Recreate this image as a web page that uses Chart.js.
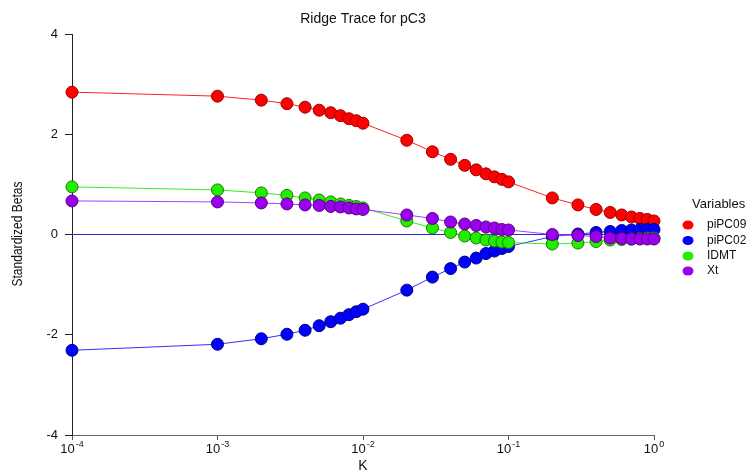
<!DOCTYPE html>
<html>
<head>
<meta charset="utf-8">
<script src="https://cdn.jsdelivr.net/npm/chart.js@4.4.1/dist/chart.umd.min.js"></script>
<style>
  html, body { margin: 0; padding: 0; background: #fff; }
  #wrap { width: 750px; height: 474px; position: relative; }
</style>
</head>
<body>
<div id="wrap"><canvas id="ridgeChart"></canvas></div>
<script>
// valores de K (escala log)
const kValues = [0.0001,
  0.001, 0.002, 0.003, 0.004, 0.005, 0.006, 0.007, 0.008, 0.009,
  0.01, 0.02, 0.03, 0.04, 0.05, 0.06, 0.07, 0.08, 0.09,
  0.1, 0.2, 0.3, 0.4, 0.5, 0.6, 0.7, 0.8, 0.9,
  1.0];

const piPC09 = [2.84, 2.76, 2.68, 2.61, 2.54, 2.48, 2.43, 2.37, 2.31, 2.27,
  2.22, 1.88, 1.65, 1.50, 1.38, 1.29, 1.21, 1.15, 1.10,
  1.05, 0.73, 0.59, 0.50, 0.44, 0.39, 0.35, 0.32, 0.30, 0.27];
const piPC02 = [-2.31, -2.19, -2.08, -1.99, -1.91, -1.82, -1.74, -1.67, -1.60, -1.54,
  -1.49, -1.11, -0.85, -0.68, -0.55, -0.47, -0.38, -0.33, -0.28,
  -0.24, -0.04, 0.01, 0.04, 0.06, 0.08, 0.09, 0.10, 0.10, 0.10];
const IDMT = [0.95, 0.89, 0.83, 0.78, 0.73, 0.69, 0.65, 0.61, 0.58, 0.56,
  0.53, 0.27, 0.13, 0.04, -0.03, -0.07, -0.11, -0.13, -0.15,
  -0.16, -0.19, -0.17, -0.14, -0.11, -0.10, -0.09, -0.08, -0.07, -0.07];
const Xt = [0.67, 0.65, 0.63, 0.61, 0.59, 0.58, 0.56, 0.55, 0.53, 0.51,
  0.50, 0.39, 0.32, 0.25, 0.21, 0.18, 0.15, 0.13, 0.10,
  0.09, 0.00, -0.02, -0.04, -0.07, -0.08, -0.09, -0.09, -0.09, -0.09];

// linea de referencia en cero
const zeroLine = [0, 0];

const xTickValues = [0.0001, 0.001, 0.01, 0.1, 1];
const xTickExponents = ['-4', '-3', '-2', '-1', '0'];
const yTickValues = [-4, -2, 0, 2, 4];

const seriesNames = ['piPC09', 'piPC02', 'IDMT', 'Xt'];
const seriesData = [piPC09, piPC02, IDMT, Xt];
const lineColors = ['#ff2020', '#3030ff', '#33ee22', '#a040ff'];
const fillColors = ['#ff0000', '#0000ff', '#22ee00', '#9900ee'];
const edgeColors = ['#9a0000', '#00007a', '#1a7a00', '#55007a'];

const FONT = '"Liberation Sans", Arial, sans-serif';

const datasets = seriesNames.map((name, i) => ({
    label: name,
    data: kValues.map((k, j) => ({ x: k, y: seriesData[i][j] })),
    borderColor: lineColors[i],
    borderWidth: 1,
    backgroundColor: fillColors[i],
    pointBackgroundColor: fillColors[i],
    pointBorderColor: edgeColors[i],
    pointBorderWidth: 1,
    pointRadius: 6,
    tension: 0,
    clip: false,
    order: 4 - i   // Xt queda encima
}));

datasets.push({
    label: 'zero',
    data: [{ x: xTickValues[0], y: zeroLine[0] }, { x: xTickValues[4], y: zeroLine[1] }],
    borderColor: '#2b2bd8',
    borderWidth: 1.2,
    pointRadius: 0,
    order: 10
});

// textos, leyenda y etiquetas 10^n
const extras = {
    id: 'extras',
    afterDraw(chart) {
        const { ctx, scales } = chart;
        ctx.save();
        ctx.fillStyle = '#111';

        // titulo
        ctx.font = '14px ' + FONT;
        ctx.textAlign = 'center';
        ctx.textBaseline = 'middle';
        ctx.fillText('Ridge Trace for pC3', 363, 19);

        // titulo eje x
        ctx.fillText('K', 363, 466);

        // titulo eje y (letra estrecha)
        ctx.save();
        ctx.translate(18, 234);
        ctx.rotate(-Math.PI / 2);
        ctx.scale(0.86, 1);
        ctx.font = '14px ' + FONT;
        ctx.fillText('Standardized Betas', 0, 0);
        ctx.restore();

        // etiquetas eje x con exponente
        const ty = 449;
        xTickValues.forEach((v, i) => {
            const px = scales.x.getPixelForValue(v);
            ctx.font = '13px ' + FONT;
            const wBase = ctx.measureText('10').width;
            ctx.font = '9px ' + FONT;
            const wExp = ctx.measureText(xTickExponents[i]).width;
            const start = px - (wBase + 1 + wExp) / 2;
            ctx.textAlign = 'left';
            ctx.font = '13px ' + FONT;
            ctx.fillText('10', start, ty);
            ctx.font = '9px ' + FONT;
            ctx.fillText(xTickExponents[i], start + wBase + 1, ty - 4);
        });

        // leyenda
        ctx.textAlign = 'left';
        ctx.font = '13px ' + FONT;
        ctx.fillText('Variables', 692, 204);
        ctx.font = '12px ' + FONT;
        const rows = [225, 240.5, 256, 271];
        seriesNames.forEach((name, i) => {
            ctx.beginPath();
            ctx.ellipse(688, rows[i], 5.5, 4.5, 0, 0, Math.PI * 2);
            ctx.fillStyle = fillColors[i];
            ctx.fill();
            ctx.fillStyle = '#111';
            ctx.fillText(name, 707, rows[i]);
        });
        ctx.restore();
    }
};

document.addEventListener('DOMContentLoaded', function () {
    const ctx = document.getElementById('ridgeChart').getContext('2d');
    new Chart(ctx, {
        type: 'line',
        data: { datasets: datasets },
        options: {
            responsive: true,
            maintainAspectRatio: false,
            animation: false,
            layout: { padding: { left: 0, right: 96, top: 34, bottom: 0 } },
            plugins: {
                legend: { display: false },
                tooltip: { enabled: false },
                title: { display: false }
            },
            scales: {
                x: {
                    type: 'logarithmic',
                    min: 0.0001,
                    max: 1,
                    afterBuildTicks: (scale) => {
                        scale.ticks = xTickValues.map(v => ({ value: v }));
                    },
                    afterFit: (scale) => { scale.height = 39; },
                    ticks: { callback: () => '' },
                    grid: {
                        drawOnChartArea: false,
                        drawTicks: true,
                        tickLength: 5,
                        color: '#555'
                    },
                    border: { color: '#666', width: 1 }
                },
                y: {
                    min: -4,
                    max: 4,
                    afterBuildTicks: (scale) => {
                        scale.ticks = yTickValues.map(v => ({ value: v }));
                    },
                    afterFit: (scale) => { scale.width = 72; },
                    ticks: {
                        color: '#111',
                        font: { family: FONT, size: 13 },
                        padding: 7
                    },
                    grid: {
                        drawOnChartArea: false,
                        drawTicks: true,
                        tickLength: 7,
                        color: '#222'
                    },
                    border: { color: '#222', width: 1 }
                }
            }
        },
        plugins: [extras]
    });
});
</script>
</body>
</html>
